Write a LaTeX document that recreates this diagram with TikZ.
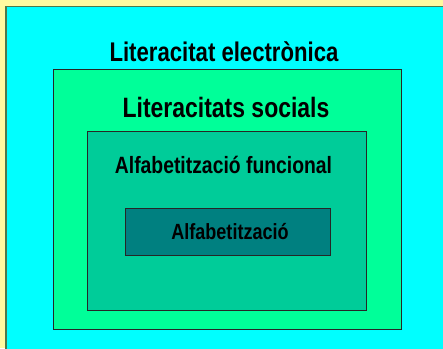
\documentclass[tikz,border=0pt]{standalone}
\usepackage{fontspec}
\setmainfont{Liberation Sans}

\definecolor{slidebg}{RGB}{255,250,160}
\definecolor{layerA}{RGB}{0,255,255}
\definecolor{layerB}{RGB}{0,255,153}
\definecolor{layerC}{RGB}{0,204,153}
\definecolor{layerD}{RGB}{0,128,128}

\tikzset{
	layer/.style={rectangle, draw=black!85, line width=1pt, inner sep=0pt, outer sep=0pt},
	caption/.style={anchor=base, inner sep=0pt, font=\bfseries},
}
\newcommand{\squeeze}[1]{\scalebox{0.82}[1]{#1}}

\begin{document}
\begin{tikzpicture}[x=1pt,y=-1pt]
		% Slide background
		\fill[slidebg] (0,0) rectangle (443,348);
		\useasboundingbox (0,0) rectangle (443,348);
		
		% Nested boxes, from the outside in
		\node[layer, fill=layerA, draw=black!55!green!40!gray, line width=1.7pt, minimum width=470pt, minimum height=380pt, anchor=north west] (electronica) at (6,6.5) {};
		\node[layer, fill=layerB, minimum width=347.5pt, minimum height=260.3pt] (socials) at (227.25,199.15) {};
		\node[layer, fill=layerC, minimum width=279.7pt, minimum height=179pt] (funcional) at (226.85,220.5) {};
		\node[layer, fill=layerD, minimum width=204.3pt, minimum height=46.3pt] (basica) at (227.85,231.85) {};
		
		% Labels of the boxes
		\node[caption] (electronicaLbl) at (224,61) {\fontsize{27}{30}\selectfont\squeeze{Literacitat electrònica}};
		\node[caption] (socialsLbl) at (226,117.5) {\fontsize{28}{30}\selectfont\squeeze{Literacitats socials}};
		\node[caption] (funcionalLbl) at (223.5,173) {\fontsize{23.6}{26}\selectfont\squeeze{Alfabetització funcional}};
		\node[caption] (basicaLbl) at (230,239) {\fontsize{22}{24}\selectfont\squeeze{Alfabetització}};
	\end{tikzpicture}
\end{document}
